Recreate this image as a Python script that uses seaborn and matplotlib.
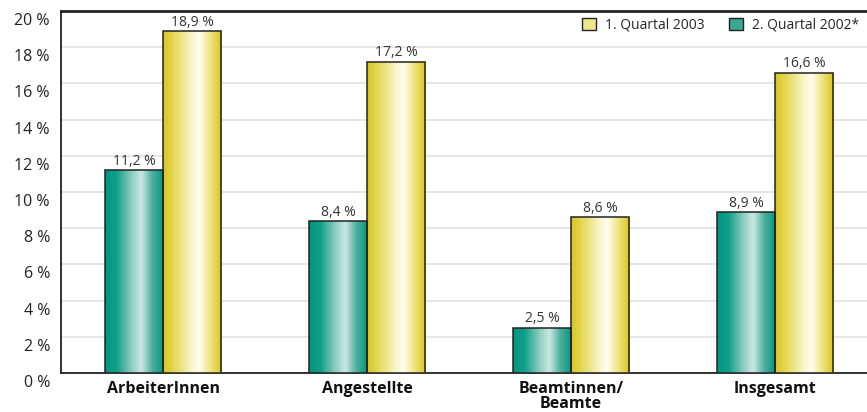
import pandas as pd
import matplotlib.pyplot as plt
import matplotlib.transforms as mtransforms
from matplotlib.colors import LinearSegmentedColormap
from matplotlib.patches import Patch
import numpy as np
import seaborn as sns

# Daten
kategorien = ['ArbeiterInnen', 'Angestellte', 'Beamtinnen/\nBeamte', 'Insgesamt']
quartal_2002 = [11.2, 8.4, 2.5, 8.9]
quartal_2003 = [18.9, 17.2, 8.6, 16.6]
serien = ['2. Quartal 2002*', '1. Quartal 2003']
y_ticks = [0, 2, 4, 6, 8, 10, 12, 14, 16, 18, 20]

df = pd.DataFrame({
    'Kategorie': kategorien * 2,
    'Serie': [serien[0]] * 4 + [serien[1]] * 4,
    'Wert': quartal_2002 + quartal_2003,
})

sns.set_style('white')
plt.rcParams['font.family'] = ['Open Sans', 'DejaVu Sans']

farben = {serien[0]: '#3aa792', serien[1]: '#e6db55'}
verlauf = {
    serien[0]: LinearSegmentedColormap.from_list('teal', [
        (0.0, '#00957f'), (0.2, '#10a08a'), (0.45, '#8fcdc1'),
        (0.62, '#cbe8e2'), (0.8, '#4fb09f'), (1.0, '#00957f')]),
    serien[1]: LinearSegmentedColormap.from_list('gelb', [
        (0.0, '#d8c51c'), (0.25, '#e9de6c'), (0.5, '#fbf6cf'),
        (0.62, '#fffdf0'), (0.82, '#ece277'), (1.0, '#d8c51c')]),
}

fig = plt.figure(figsize=(8.67, 4.12), dpi=100)
ax = fig.add_axes([61 / 867, 1 - 373 / 412, 1 - 61 / 867, (373 - 11) / 412])

sns.barplot(data=df, x='Kategorie', y='Wert', hue='Serie', hue_order=serien,
            order=kategorien, palette=farben, width=0.57, edgecolor='#222222',
            linewidth=1.1, legend=False, ax=ax, zorder=3)

# Verlauf in die Balken legen
grad = np.linspace(0, 1, 256).reshape(1, -1)
for container, serie in zip(ax.containers, serien):
    for bar in container:
        x0, w, h = bar.get_x(), bar.get_width(), bar.get_height()
        im = ax.imshow(grad, cmap=verlauf[serie], aspect='auto',
                       extent=[x0, x0 + w, 0, h], zorder=3.5)
        im.set_clip_path(bar)
        bar.set_facecolor('none')
        bar.set_zorder(4)
    labels = [f'{v:.1f} %'.replace('.', ',') for v in container.datavalues]
    ax.bar_label(container, labels=labels, padding=1, fontsize=10,
                 color='#333333', zorder=5)

ax.set_xlim(-0.5, 3.45)
ax.set_ylim(0, 20)
ax.set_yticks(y_ticks)
ax.set_yticklabels([f'{t} %' for t in y_ticks], fontsize=11.5, color='#222222')
ax.set_xticks(range(4))
ax.set_xticklabels(kategorien, fontsize=11.5, fontweight='bold',
                   color='#111111', linespacing=0.9)
ax.tick_params(axis='x', length=0, pad=6)
ax.set_xticks([0.5, 1.5, 2.5], minor=True)
ax.tick_params(axis='x', which='minor', length=3, width=1, color='#222222')
ax.tick_params(axis='y', length=4, width=1, color='#222222', pad=4)
ax.set_xlabel('')
ax.set_ylabel('')

# y-Beschriftung leicht nach unten versetzt
versatz = mtransforms.ScaledTranslation(0, -8 / 100, fig.dpi_scale_trans)
for lab in ax.get_yticklabels():
    lab.set_transform(lab.get_transform() + versatz)

ax.grid(axis='y', color='#e2e2e2', linewidth=1.2, zorder=0)
ax.set_axisbelow(True)
for side in ['left', 'bottom', 'top']:
    ax.spines[side].set_color('#222222')
    ax.spines[side].set_linewidth(1.3)
ax.spines['top'].set_linewidth(2)
ax.spines['right'].set_visible(False)

handles = [Patch(facecolor='#efe68a', edgecolor='#222222', linewidth=1),
           Patch(facecolor='#3aa792', edgecolor='#222222', linewidth=1)]
ax.legend(handles, [serien[1], serien[0]], ncol=2, frameon=False,
          loc='upper right', bbox_to_anchor=(1.0, 1.005), fontsize=10,
          handlelength=1.0, handleheight=1.0, columnspacing=1.8,
          handletextpad=0.6, borderaxespad=0.2)

plt.savefig('out.png', dpi=100)
